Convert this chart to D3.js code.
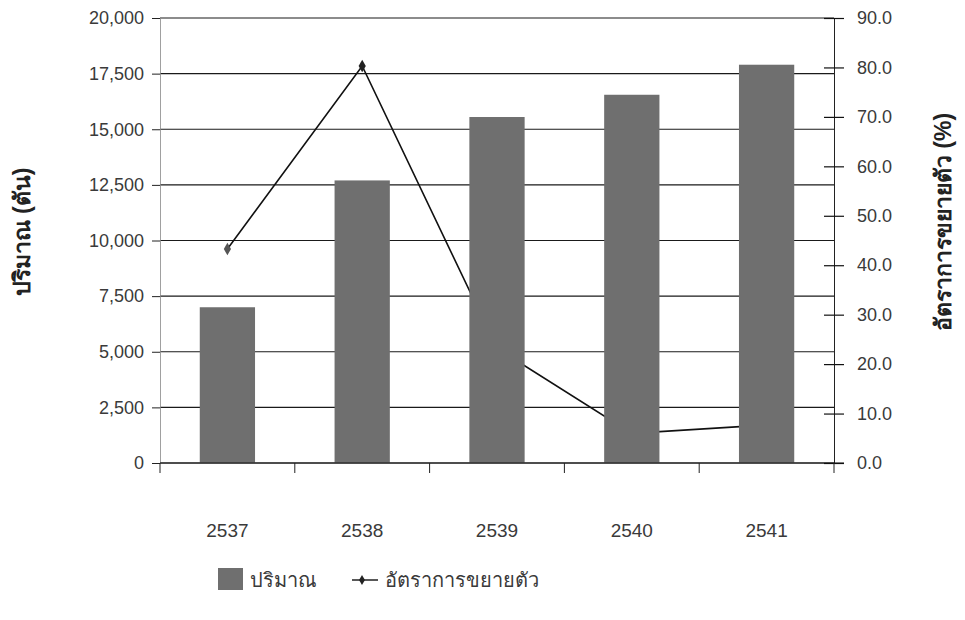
<!DOCTYPE html>
<html>
<head>
<meta charset="utf-8">
<script src="https://cdn.jsdelivr.net/npm/d3@7/dist/d3.min.js"></script>
<style>
  html, body { margin: 0; padding: 0; background: #fff; }
  svg text { font-family: "Liberation Sans", "DejaVu Sans", "Noto Sans", sans-serif; }
</style>
</head>
<body>
<svg id="chart" width="965" height="620"></svg>
<script>
// Production volume (tonnes) and growth rate (%) by Buddhist-era year
const years = ["2537", "2538", "2539", "2540", "2541"];
const volume = [7000, 12700, 15550, 16550, 17900];
const growth = [43.3, 80.3, 23.2, 6.0, 7.7];
const leftTicks = [0, 2500, 5000, 7500, 10000, 12500, 15000, 17500, 20000];
const rightTicks = [0, 10, 20, 30, 40, 50, 60, 70, 80, 90];

const svg = d3.select("#chart");
const plotL = 160, plotR = 834, plotT = 18, plotB = 463;

const x = d3.scaleBand().domain(years).range([plotL, plotR])
  .paddingInner(0.59).paddingOuter(0.295);
const yL = d3.scaleLinear().domain([0, 20000]).range([plotB, plotT]);
const yR = d3.scaleLinear().domain([0, 90]).range([plotB, plotT]);

const textColor = "#3a3a3a";
const tickSize = 18;

// horizontal gridlines on the volume scale
svg.append("g").selectAll("line").data(leftTicks).join("line")
  .attr("x1", plotL).attr("x2", plotR)
  .attr("y1", d => yL(d)).attr("y2", d => yL(d))
  .attr("stroke", "#1a1a1a").attr("stroke-width", 1.1);

// growth-rate line (sits behind the bars)
const cx = d => x(d) + x.bandwidth() / 2;
const line = d3.line().x((d, i) => cx(years[i])).y(d => yR(d));
svg.append("path").datum(growth)
  .attr("d", line).attr("fill", "none")
  .attr("stroke", "#111").attr("stroke-width", 1.6);
svg.append("g").selectAll("path").data(growth).join("path")
  .attr("transform", (d, i) => `translate(${cx(years[i])},${yR(d)})`)
  .attr("d", d3.symbol(d3.symbolDiamond, 45))
  .attr("fill", (d, i) => i === 0 ? "#555" : "#222");

// volume bars
svg.append("g").selectAll("rect").data(volume).join("rect")
  .attr("x", (d, i) => x(years[i]))
  .attr("width", x.bandwidth())
  .attr("y", d => yL(d))
  .attr("height", d => yL(0) - yL(d))
  .attr("fill", "#6f6f6f");

// left axis
const gL = svg.append("g").attr("transform", `translate(${plotL},0)`)
  .call(d3.axisLeft(yL).tickValues(leftTicks).tickSize(8).tickPadding(8)
    .tickFormat(d3.format(",")));
gL.select(".domain").attr("stroke", "#888").attr("stroke-width", 0.8);
gL.selectAll(".tick line").attr("stroke", "#222");
gL.selectAll("text").attr("font-size", tickSize).attr("fill", textColor);

// right axis with ticks crossing the spine
const gR = svg.append("g").attr("transform", `translate(${plotR},0)`)
  .call(d3.axisRight(yR).tickValues(rightTicks).tickSizeInner(10).tickSizeOuter(0)
    .tickPadding(13).tickFormat(d3.format(".1f")));
gR.select(".domain").attr("stroke", "#222").attr("stroke-width", 1);
gR.selectAll(".tick line").attr("x1", -10).attr("stroke", "#111").attr("stroke-width", 1.2);
gR.selectAll("text").attr("font-size", tickSize).attr("fill", textColor);

// bottom axis: ticks at category boundaries
const boundaries = years.map(y => x(y) - x.step() * x.paddingInner() / 2);
svg.append("line").attr("x1", plotL).attr("x2", plotR + 10)
  .attr("y1", plotB).attr("y2", plotB)
  .attr("stroke", "#111").attr("stroke-width", 1.2);
svg.append("g").selectAll("line").data(boundaries.concat([plotR])).join("line")
  .attr("x1", d => d).attr("x2", d => d)
  .attr("y1", plotB).attr("y2", plotB + 10)
  .attr("stroke", "#222");
svg.append("g").selectAll("text").data(years).join("text")
  .attr("x", d => cx(d)).attr("y", 537)
  .attr("text-anchor", "middle")
  .attr("font-size", 19).attr("fill", textColor)
  .text(d => d);

// axis titles
svg.append("text")
  .attr("transform", `translate(30,232) rotate(-90)`)
  .attr("text-anchor", "middle").attr("font-size", 23).attr("font-weight", "bold")
  .attr("fill", "#222").text("ปริมาณ (ตัน)");
svg.append("text")
  .attr("transform", `translate(951,222) rotate(-90)`)
  .attr("text-anchor", "middle").attr("font-size", 23).attr("font-weight", "bold")
  .attr("fill", "#222").text("อัตราการขยายตัว (%)");

// legend
const lg = svg.append("g");
lg.append("rect").attr("x", 218).attr("y", 568).attr("width", 25).attr("height", 22)
  .attr("fill", "#6f6f6f");
lg.append("text").attr("x", 250).attr("y", 587).attr("font-size", 20)
  .attr("fill", textColor).text("ปริมาณ");
lg.append("line").attr("x1", 352).attr("x2", 378).attr("y1", 580).attr("y2", 580)
  .attr("stroke", "#111").attr("stroke-width", 1.4);
lg.append("path").attr("transform", "translate(362,580)")
  .attr("d", d3.symbol(d3.symbolDiamond, 30)).attr("fill", "#222");
lg.append("text").attr("x", 385).attr("y", 587).attr("font-size", 20)
  .attr("fill", textColor).text("อัตราการขยายตัว");
</script>
</body>
</html>
